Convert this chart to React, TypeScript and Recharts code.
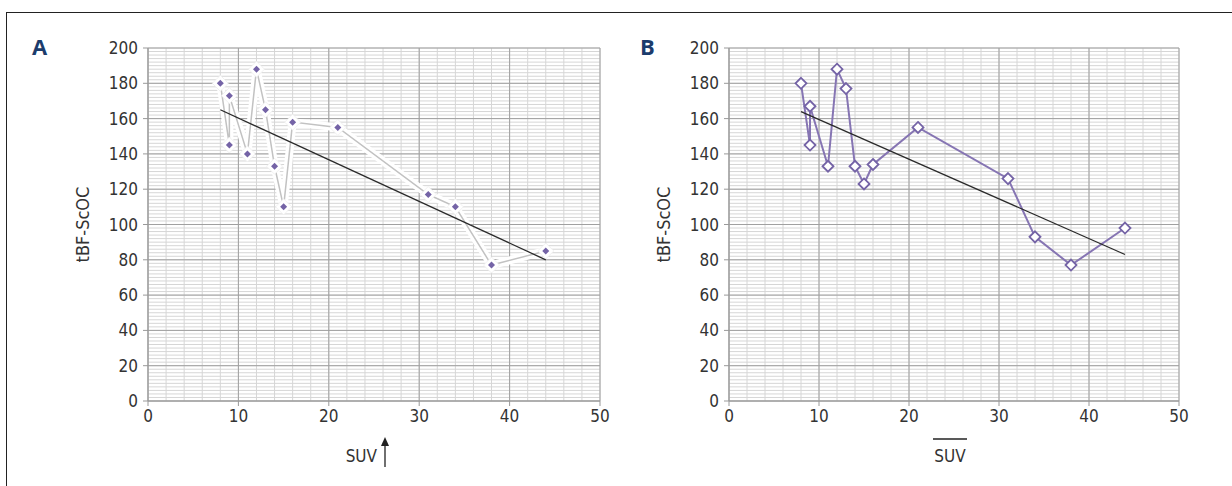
import React from "react";
import { ScatterChart, Scatter, XAxis, YAxis, CartesianGrid } from "recharts";

// SUV (x) and tBF-ScOC (y), in the order the points are joined
const suvA = [8, 9, 9, 11, 12, 13, 14, 15, 16, 21, 31, 34, 38, 44];
const scocA = [180, 145, 173, 140, 188, 165, 133, 110, 158, 155, 117, 110, 77, 85];
const suvB = [8, 9, 9, 11, 12, 13, 14, 15, 16, 21, 31, 34, 38, 44];
const scocB = [180, 145, 167, 133, 188, 177, 133, 123, 134, 155, 126, 93, 77, 98];

// linear trend line end points
const trendX = [8, 44];
const trendA = [165, 80];
const trendB = [164, 83];

const xTicks = [0, 10, 20, 30, 40, 50];
const yTicks = [0, 20, 40, 60, 80, 100, 120, 140, 160, 180, 200];
const minorX = Array.from({ length: 26 }, (_, i) => i * 2);
const minorY = Array.from({ length: 101 }, (_, i) => i * 2);

const FONT = "'DejaVu Sans Condensed', 'Liberation Sans', sans-serif";
const PURPLE = "#7463a6";

const pts = (xs: number[], ys: number[]) => xs.map((x, i) => ({ x, y: ys[i] }));

const diamond = (cx: number, cy: number, r: number) =>
  `M${cx},${cy - r}L${cx + r},${cy}L${cx},${cy + r}L${cx - r},${cy}Z`;

const toPx = (axis: any, v: number) => {
  const s = axis?.scale;
  if (typeof s === "function") return s(v);
  if (s && typeof s.map === "function") return s.map(v);
  return NaN;
};

const minorH = ({ yAxis }: any) => minorY.map((v) => toPx(yAxis, v)).filter((n) => Number.isFinite(n));
const minorV = ({ xAxis }: any) => minorX.map((v) => toPx(xAxis, v)).filter((n) => Number.isFinite(n));

const NoDot = () => <g />;

const DotA = (p: any) => (
  <g>
    <path d={diamond(p.cx, p.cy, 8)} fill="#fff" stroke="#ededed" strokeWidth={0.8} />
    <path d={diamond(p.cx, p.cy, 3.5)} fill={PURPLE} />
  </g>
);

const DotB = (p: any) => (
  <path d={diamond(p.cx, p.cy, 5.5)} fill="#fff" stroke={PURPLE} strokeWidth={1.8} />
);

const YTitle = (props: any) => {
  const vb = props.viewBox;
  const cx = vb.x + vb.width - 66;
  const cy = vb.y + vb.height / 2;
  return (
    <text x={cx} y={cy} transform={`rotate(-90 ${cx} ${cy})`} textAnchor="middle"
      dominantBaseline="central" fontSize={18} fontFamily={FONT} fill="#333">
      tBF-ScOC
    </text>
  );
};

const XTitleArrow = (props: any) => {
  const vb = props.viewBox;
  const cx = vb.x + vb.width / 2;
  const base = vb.y + 61;
  const ax = cx + 11;
  return (
    <g>
      <text x={cx + 3} y={base} textAnchor="end" fontSize={17} fontFamily={FONT} fill="#333">SUV</text>
      <line x1={ax} y1={base + 5} x2={ax} y2={base - 18} stroke="#222" strokeWidth={1.3} />
      <path d={`M${ax - 4},${base - 16}L${ax},${base - 25}L${ax + 4},${base - 16}Z`} fill="#222" />
    </g>
  );
};

const XTitleBar = (props: any) => {
  const vb = props.viewBox;
  const cx = vb.x + vb.width / 2 - 4;
  const base = vb.y + 61;
  return (
    <g>
      <line x1={cx - 17} y1={base - 23} x2={cx + 17} y2={base - 23} stroke="#222" strokeWidth={1.5} />
      <text x={cx} y={base} textAnchor="middle" fontSize={17} fontFamily={FONT} fill="#333">SUV</text>
    </g>
  );
};

const tickStyle = { fill: "#333", fontSize: 17, fontFamily: FONT };

const Panel = ({ left, margin, kind }: { left: number; margin: any; kind: "A" | "B" }) => {
  const data = kind === "A" ? pts(suvA, scocA) : pts(suvB, scocB);
  const trend = pts(trendX, kind === "A" ? trendA : trendB);
  return (
    <div style={{ position: "absolute", left, top: 0 }}>
      <ScatterChart width={616} height={486} margin={margin}>
        <CartesianGrid horizontalCoordinatesGenerator={minorH} verticalCoordinatesGenerator={minorV}
          stroke="#d6d6d6" />
        <CartesianGrid stroke="#a0a0a0" />
        <XAxis type="number" dataKey="x" domain={[0, 50]} ticks={xTicks} interval={0} height={30}
          tickSize={5} tickMargin={4} tick={tickStyle}
          axisLine={{ stroke: "#999" }} tickLine={{ stroke: "#999" }}
          label={kind === "A" ? XTitleArrow : XTitleBar} />
        <YAxis type="number" dataKey="y" domain={[0, 200]} ticks={yTicks} interval={0} width={60}
          tickSize={5} tickMargin={5} tick={tickStyle}
          axisLine={{ stroke: "#999" }} tickLine={{ stroke: "#999" }}
          label={YTitle} />
        {kind === "A" ? (
          <>
            <Scatter data={data} shape={NoDot} isAnimationActive={false}
              line={{ stroke: "#fff", strokeWidth: 8, strokeLinejoin: "round" }} lineType="joint" />
            <Scatter data={data} shape={DotA} isAnimationActive={false}
              line={{ stroke: "#c2c2c2", strokeWidth: 1.5 }} lineType="joint" />
          </>
        ) : (
          <Scatter data={data} shape={DotB} isAnimationActive={false}
            line={{ stroke: "#8675b3", strokeWidth: 2 }} lineType="joint" />
        )}
        <Scatter data={trend} shape={NoDot} isAnimationActive={false}
          line={{ stroke: "#2a2a2a", strokeWidth: 1.3 }} lineType="joint" />
      </ScatterChart>
    </div>
  );
};

const panelLetter = (left: number): React.CSSProperties => ({
  position: "absolute", left, top: 33, fontFamily: "'Open Sans', 'Noto Sans', sans-serif",
  fontWeight: 700, fontSize: 22, color: "#1c3c6c", lineHeight: "26px",
});

export default function App() {
  return (
    <div style={{ position: "absolute", left: 0, top: 0, width: 1232, height: 486, overflow: "hidden", background: "#fff" }}>
      <div style={{ position: "absolute", left: 6, top: 12, width: 1400, height: 600,
        borderTop: "1px solid #222", borderLeft: "1px solid #222" }} />
      <div style={panelLetter(32)}>A</div>
      <div style={panelLetter(640)}>B</div>
      <Panel kind="A" left={0} margin={{ top: 48, right: 16, bottom: 55, left: 88 }} />
      <Panel kind="B" left={616} margin={{ top: 48, right: 53, bottom: 55, left: 53 }} />
    </div>
  );
}
